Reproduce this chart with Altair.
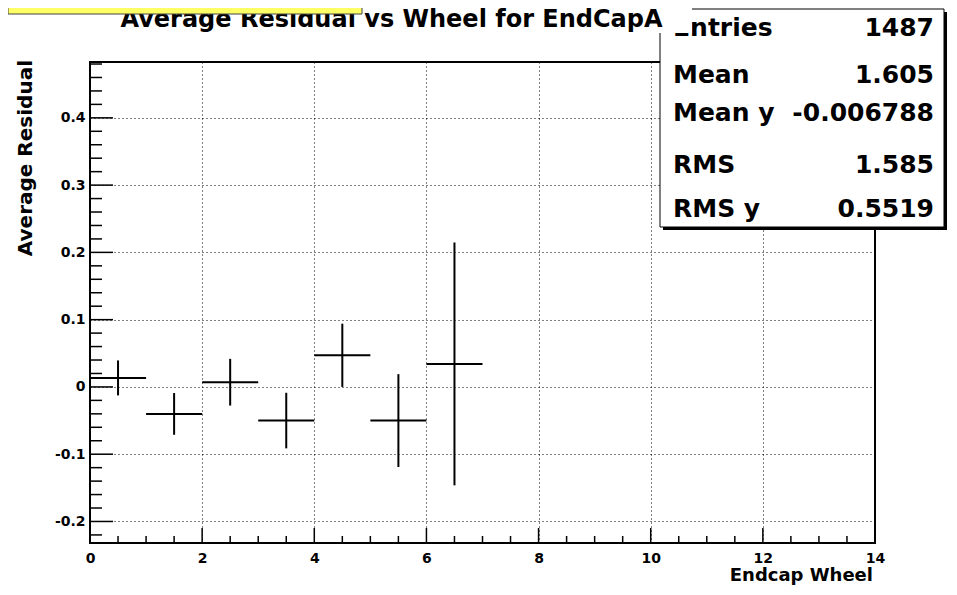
import altair as alt
import pandas as pd

# ---- data ----
wheel_lo = [0, 1, 2, 3, 4, 5, 6]
wheel_hi = [1, 2, 3, 4, 5, 6, 7]
avg_residual = [0.0134, -0.0401, 0.0070, -0.0500, 0.0470, -0.0500, 0.0342]
residual_err = [0.0260, 0.0310, 0.0347, 0.0413, 0.0470, 0.0690, 0.1805]

x_major = [0, 2, 4, 6, 8, 10, 12, 14]
y_major = [-0.2, -0.1, 0, 0.1, 0.2, 0.3, 0.4]
x_minor = [k * 0.5 for k in range(1, 28) if k % 4 != 0]
y_minor = [round(k * 0.02, 2) for k in range(-11, 25) if k % 5 != 0]

stat_labels = ["Entries", "Mean", "Mean y", "RMS", "RMS y"]
stat_values = ["1487", "1.605", "-0.006788", "1.585", "0.5519"]

title_text = "Average Residual vs Wheel for EndCapA"
x_title = "Endcap Wheel"
y_title = "Average Residual"

df = pd.DataFrame({
    "lo": wheel_lo,
    "hi": wheel_hi,
    "mid": [(a + b) / 2 for a, b in zip(wheel_lo, wheel_hi)],
    "y": avg_residual,
    "ylo": [v - e for v, e in zip(avg_residual, residual_err)],
    "yhi": [v + e for v, e in zip(avg_residual, residual_err)],
})

W, H = 785, 481
FONT = "DejaVu Sans"
xs = alt.Scale(domain=[0, 14], nice=False, zero=False)
ys = alt.Scale(domain=[-0.232, 0.483], nice=False, zero=False)

x_axis = alt.Axis(values=x_major, format="d", title=None, grid=True, gridDash=[1, 3],
                  gridColor="black", gridOpacity=1, gridWidth=1, ticks=False, domain=False,
                  labelFont=FONT, labelFontWeight="bold", labelFontSize=14, labelColor="black",
                  labelPadding=8, labelFlush=False, labelOverlap=False)
y_axis = alt.Axis(values=y_major, title=None, grid=True, gridDash=[1, 3],
                  gridColor="black", gridOpacity=1, gridWidth=1, ticks=False, domain=False,
                  labelExpr="datum.value == 0 ? '0' : (datum.value < 0 ? '-' + format(-datum.value, '.1f') : format(datum.value, '.1f'))",
                  labelFont=FONT, labelFontWeight="bold", labelFontSize=14, labelColor="black",
                  labelPadding=5, labelFlush=False, labelOverlap=False)

hbar = alt.Chart(df).mark_rule(color="black", strokeWidth=2).encode(
    x=alt.X("lo:Q", scale=xs, axis=x_axis),
    x2="hi:Q",
    y=alt.Y("y:Q", scale=ys, axis=y_axis),
)
vbar = alt.Chart(df).mark_rule(color="black", strokeWidth=2).encode(
    x=alt.X("mid:Q", scale=xs),
    y=alt.Y("ylo:Q", scale=ys),
    y2="yhi:Q",
)

# inward ticks
def yticks(vals, length):
    return alt.Chart(pd.DataFrame({"v": vals})).mark_rule(color="black", strokeWidth=1.5).encode(
        x=alt.value(0), x2=alt.value(length), y=alt.Y("v:Q", scale=ys))

def xticks(vals, length):
    return alt.Chart(pd.DataFrame({"v": vals})).mark_rule(color="black", strokeWidth=1.5).encode(
        y=alt.value(H), y2=alt.value(H - length), x=alt.X("v:Q", scale=xs))

one = alt.Data(values=[{}])

def box(x1, x2, y1, y2, **kw):
    return alt.Chart(one).mark_rect(**kw).encode(
        x=alt.value(x1), x2=alt.value(x2), y=alt.value(y1), y2=alt.value(y2))

def label(txt, x, y, size, align="left", angle=0):
    return alt.Chart(one).mark_text(text=txt, font=FONT, fontWeight="bold", fontSize=size,
                                    align=align, baseline="alphabetic", color="black",
                                    angle=angle).encode(x=alt.value(x), y=alt.value(y))

layers = [hbar, vbar,
          yticks(y_major, 23), yticks(y_minor, 12),
          xticks(x_major[1:-1], 15), xticks(x_minor, 7)]

# stats box
layers.append(box(573, 857, -50, 168, fill="black"))
layers.append(box(570, 854, -53, 165, fill="white", stroke="black", strokeWidth=1))
row_y = [-26, 21, 59, 111, 155]
for lab, val, yy in zip(stat_labels, stat_values, row_y):
    layers.append(label(lab, 583, yy, 25, "left"))
    layers.append(label(val, 844, yy, 25, "right"))

# title pave, title, yellow box
layers.append(box(10, 602, -60, -29, fill="white"))
layers.append(label(title_text, 301.5, -35, 24, "center"))
layers.append(box(-82, 272, -62, -48, fill="#ffff66", stroke="#444444", strokeWidth=1))

# axis titles
layers.append(label(x_title, 783, 519, 18, "right"))
layers.append(label(y_title, -58.5, -2, 20, "right", angle=270))

chart = alt.layer(*layers).properties(
    width=W, height=H,
    padding={"left": 82, "top": 54, "right": 74, "bottom": 44},
    autosize=alt.AutoSizeParams(type="none"),
    background="white",
).configure_view(stroke="black", strokeWidth=2)

chart.save("out.html", embed_options={"renderer": "svg", "actions": False})
